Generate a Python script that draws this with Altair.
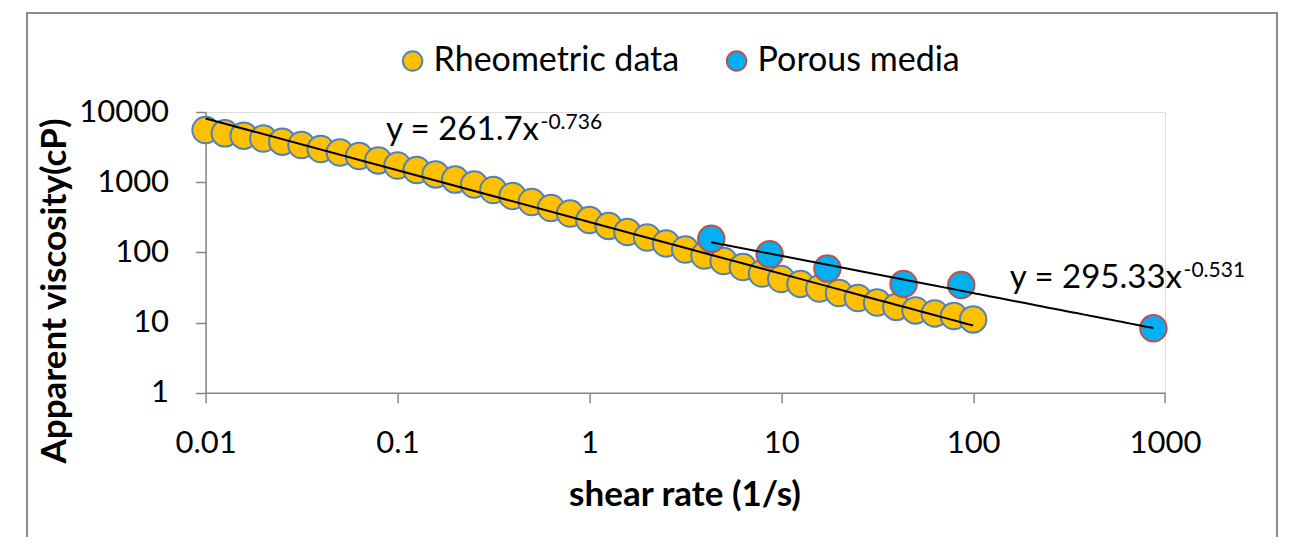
import altair as alt
import pandas as pd

# ---- data ----
series_names = ["Rheometric data", "Porous media"]

shear_rheo = [0.01, 0.0126, 0.0158, 0.02, 0.0251, 0.0316, 0.0398, 0.0501, 0.0631, 0.0794,
              0.1, 0.126, 0.158, 0.2, 0.251, 0.316, 0.398, 0.501, 0.631, 0.794,
              1, 1.26, 1.58, 2, 2.51, 3.16, 3.98, 5.01, 6.31, 7.94,
              10, 12.6, 15.8, 20, 25.1, 31.6, 39.8, 50.1, 63.1, 79.4, 100]
visc_rheo = [5540, 4970, 4600, 4190, 3780, 3390, 2970, 2650, 2360, 2040,
             1730, 1490, 1290, 1090, 927, 774, 636, 522, 429, 358,
             289, 238, 195, 163, 134, 110, 90.3, 75.4, 61.9, 50.0,
             41.8, 35.5, 30.6, 26.4, 22.4, 19.3, 16.7, 14.9, 13.5, 12.4, 11.1]

shear_porous = [4.32, 8.7, 17.4, 43.4, 86.7, 870]
visc_porous = [156, 94, 59, 35.5, 34.3, 8.3]

x_ticks = [0.01, 0.1, 1, 10, 100, 1000]
y_ticks = [1, 10, 100, 1000, 10000]

eq1_main, eq1_exp = "y = 261.7x", "-0.736"
eq2_main, eq2_exp = "y = 295.33x", "-0.531"
x_title = "shear rate (1/s)"
y_title = "Apparent viscosity(cP)"

fill_colors = ["#FFC000", "#00B0F0"]
stroke_colors = ["#4F81BD", "#C0504D"]

df = pd.DataFrame({
    "x": shear_rheo + shear_porous,
    "y": visc_rheo + visc_porous,
    "series": [series_names[0]] * len(shear_rheo) + [series_names[1]] * len(shear_porous),
    "order": list(range(len(shear_rheo) + len(shear_porous))),
})

FONT = "Lato"
AX = "#868686"
W, H = 959.4, 280.8

xs = alt.Scale(type="log", domain=[0.01, 1000], nice=False)
ys = alt.Scale(type="log", domain=[1, 10000], nice=False)

legend = alt.Legend(orient="none", legendX=190, legendY=-68, direction="horizontal",
                    title=None, labelFont=FONT, labelFontSize=34, labelColor="black",
                    labelLimit=600, symbolSize=380, symbolStrokeWidth=2, symbolType="circle",
                    labelOffset=4, columnPadding=40)

x_axis = alt.Axis(values=x_ticks, format="~g", title=None, grid=False,
                  labelFont=FONT, labelFontSize=31, labelColor="black",
                  tickSize=10, tickColor=AX, tickWidth=1.5, domainColor=AX, domainWidth=1.5,
                  labelPadding=26, labelFlush=False, labelOverlap=False)
y_axis = alt.Axis(values=y_ticks, format="~g", title=None, grid=False,
                  labelFont=FONT, labelFontSize=31, labelColor="black",
                  tickSize=10, tickColor=AX, tickWidth=1.5, domainColor=AX, domainWidth=1.5,
                  labelPadding=27, labelFlush=False, labelOverlap=False)

base = alt.Chart(df)

points = base.mark_point(filled=True, size=700, strokeWidth=2, opacity=1).encode(
    x=alt.X("x:Q", scale=xs, axis=x_axis),
    y=alt.Y("y:Q", scale=ys, axis=y_axis),
    fill=alt.Fill("series:N", scale=alt.Scale(domain=series_names, range=fill_colors), legend=legend),
    stroke=alt.Stroke("series:N", scale=alt.Scale(domain=series_names, range=stroke_colors), legend=legend),
    order=alt.Order("order:Q"),
)

trend = base.transform_regression("x", "y", method="pow", groupby=["series"]).mark_line(
    color="black", strokeWidth=2
).encode(
    x=alt.X("x:Q", scale=xs),
    y=alt.Y("y:Q", scale=ys),
    detail="series:N",
)

one = alt.Data(values=[{"a": 1}])

def txt(text, x, y, size, align="left", baseline="alphabetic", weight="normal", angle=0):
    return alt.Chart(one).mark_text(
        text=text, font=FONT, fontSize=size, fontWeight=weight, align=align,
        baseline=baseline, angle=angle, color="black"
    ).encode(x=alt.value(x), y=alt.value(y))

eq1a = txt(eq1_main, 333.4, 28, 33, align="right")
eq1b = txt(eq1_exp, 335, 17, 21)
eq2a = txt(eq2_main, 976.4, 176, 33, align="right")
eq2b = txt(eq2_exp, 978, 165, 21)
xt = txt(x_title, 479.4, 383, 35, align="center", baseline="middle", weight="bold")
yt = txt(y_title, -150.6, 179, 35, align="center", baseline="middle", weight="bold", angle=270)

frame = alt.Chart(one).mark_rect(fill=None, stroke="#8C8C8C", strokeWidth=2).encode(
    x=alt.value(-178.6), x2=alt.value(1071.4), y=alt.value(-99), y2=alt.value(460)
)

chart = alt.layer(frame, points, trend, eq1a, eq1b, eq2a, eq2b, xt, yt).properties(
    width=W, height=H,
    autosize=alt.AutoSizeParams(type="none"),
    padding={"left": 197.6, "top": 104, "right": 134, "bottom": 144.2},
).configure_view(stroke=None).configure(font=FONT)

chart.save("out.html", embed_options={"renderer": "svg", "actions": False})
